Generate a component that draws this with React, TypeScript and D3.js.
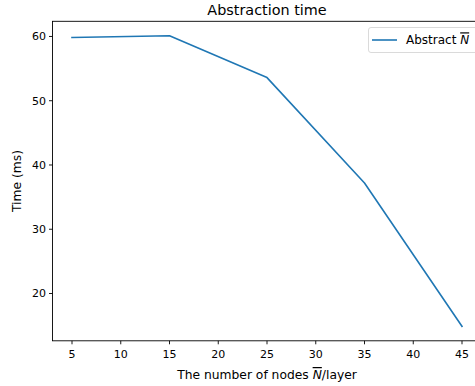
import React from 'react'
import * as d3 from 'd3'

// values
const nodes = [5, 15, 25, 35, 45]
const abstractTime = [59.85, 60.1, 53.6, 37.2, 14.9]
const xTicks = [5, 10, 15, 20, 25, 30, 35, 40, 45]
const yTicks = [20, 30, 40, 50, 60]

const W = 475
const H = 386
const left = 52.5
const top = 21.3
const bottom = 340.8
const right = 481.5
const font = 'DejaVu Sans, sans-serif'
const blue = '#1f77b4'

const NBar = () => (
  <tspan fontStyle='italic' textDecoration='overline'>N</tspan>
)

export default function App () {
  const xScale = d3.scaleLinear().domain([3, 47]).range([left, right])
  const lo = d3.min(abstractTime) as number
  const hi = d3.max(abstractTime) as number
  const pad = (hi - lo) * 0.05
  const yScale = d3.scaleLinear().domain([lo - pad, hi + pad]).range([bottom, top])
  const line = d3.line<number>()
    .x((d, i) => xScale(nodes[i]))
    .y(d => yScale(d))

  return <div style={{ position: 'absolute', left: 0, top: 0 }}>
    <svg width={W} height={H} viewBox={`0 0 ${W} ${H}`} style={{ display: 'block', background: '#fff' }} fontFamily={font}>
      <rect x={0} y={0} width={W} height={H} fill='#fff' />
      <text x={(left + right) / 2} y={14.5} textAnchor='middle' fontSize={14.4} fill='#000'>Abstraction time</text>

      <path d={line(abstractTime) || ''} fill='none' stroke={blue} strokeWidth={1.6} strokeLinejoin='round' strokeLinecap='square' />

      <rect x={left} y={top} width={right - left} height={bottom - top} fill='none' stroke='#000' strokeWidth={0.9} />

      {yTicks.map((v, i) => (
        <g key={i} transform={`translate(${left},${yScale(v)})`}>
          <line x1={0} x2={-3.5} y1={0} y2={0} stroke='#000' strokeWidth={0.9} />
          <text x={-6.5} dy='0.36em' textAnchor='end' fontSize={11} fill='#000'>{v}</text>
        </g>
      ))}
      {xTicks.map((v, i) => (
        <g key={i} transform={`translate(${xScale(v)},${bottom})`}>
          <line x1={0} x2={0} y1={0} y2={3.5} stroke='#000' strokeWidth={0.9} />
          <text y={17.5} textAnchor='middle' fontSize={11} fill='#000'>{v}</text>
        </g>
      ))}

      <text transform={`translate(17,${(top + bottom) / 2}) rotate(-90)`} textAnchor='middle' dy='0.35em' fontSize={12.3} fill='#000'>Time (ms)</text>
      <text x={(left + right) / 2} y={379} textAnchor='middle' fontSize={12.3} fill='#000'>
        The number of nodes <NBar />/layer
      </text>

      <g>
        <rect x={368.5} y={27.5} width={120} height={25} rx={2.5} fill='#fff' fillOpacity={0.8} stroke='#d0d0d0' strokeWidth={0.8} />
        <line x1={372} x2={397} y1={40} y2={40} stroke={blue} strokeWidth={1.6} />
        <text x={406} y={40} dy='0.36em' fontSize={12} fill='#000'>Abstract <NBar /></text>
      </g>
    </svg>
  </div>
}
